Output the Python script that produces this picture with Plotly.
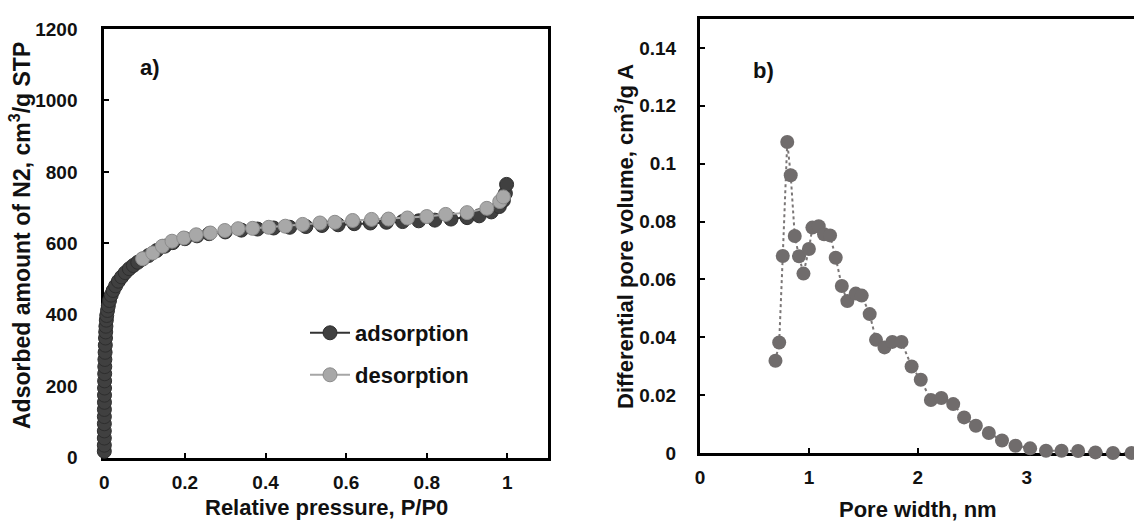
import plotly.graph_objects as go

# ---------------- data: panel a (N2 isotherm) ----------------
p_ads = [0.00002, 0.00004, 0.00007, 0.0001, 0.00015, 0.0002, 0.0003, 0.0004, 0.0005, 0.0006,
         0.0008, 0.001, 0.0012, 0.0015, 0.002, 0.0025, 0.003, 0.0035, 0.004, 0.005,
         0.006, 0.008, 0.010, 0.013, 0.017, 0.022, 0.028, 0.035, 0.043, 0.052,
         0.062, 0.072, 0.083, 0.095, 0.11, 0.13, 0.15, 0.17, 0.20, 0.23,
         0.26, 0.30, 0.34, 0.38, 0.42, 0.46, 0.50, 0.54, 0.58, 0.62,
         0.66, 0.70, 0.74, 0.78, 0.82, 0.86, 0.90, 0.93, 0.96, 0.98,
         0.99, 0.995, 0.998]
v_ads = [18, 35, 55, 75, 95, 115, 135, 155, 175, 195,
         215, 235, 255, 275, 295, 315, 335, 352, 368, 385,
         398, 412, 425, 440, 455, 468, 481, 494, 506, 518,
         529, 538, 547, 556, 566, 580, 592, 602, 613, 621,
         627, 632, 637, 640, 643, 645, 647, 650, 652, 655,
         657, 659, 661, 663, 665, 668, 672, 677, 688, 703,
         720, 740, 765]

p_des = [0.095, 0.12, 0.144, 0.168, 0.197, 0.228, 0.263, 0.299, 0.332, 0.368,
         0.408, 0.449, 0.492, 0.535, 0.572, 0.616, 0.663, 0.705, 0.752, 0.80,
         0.847, 0.90, 0.949, 0.981, 0.99]
v_des = [557, 573, 592, 606, 615, 624, 629, 636, 641, 642,
         645, 648, 653, 657, 659, 664, 667, 668, 671, 675,
         681, 686, 698, 717, 730]

a_xticks = [0, 0.2, 0.4, 0.6, 0.8, 1]
a_xlabels = ["0", "0.2", "0.4", "0.6", "0.8", "1"]
a_yticks = [0, 200, 400, 600, 800, 1000, 1200]
a_ylabels = ["0", "200", "400", "600", "800", "1000", "1200"]

# ---------------- data: panel b (pore size distribution) ----------------
pore_w = [0.693, 0.727, 0.760, 0.801, 0.833, 0.870, 0.909, 0.950, 1.000, 1.032,
          1.090, 1.139, 1.194, 1.246, 1.302, 1.353, 1.430, 1.485, 1.558, 1.616,
          1.694, 1.766, 1.850, 1.943, 2.027, 2.120, 2.216, 2.325, 2.425, 2.533,
          2.652, 2.773, 2.897, 3.031, 3.177, 3.320, 3.472, 3.631, 3.792, 3.963]
dpv = [0.0319, 0.0382, 0.0681, 0.1075, 0.0960, 0.0750, 0.0680, 0.0620, 0.0705, 0.0779,
       0.0784, 0.0756, 0.0752, 0.0675, 0.0577, 0.0525, 0.0551, 0.0544, 0.0480, 0.0391,
       0.0365, 0.0384, 0.0384, 0.0299, 0.0253, 0.0183, 0.0190, 0.0169, 0.0123, 0.0094,
       0.0069, 0.0043, 0.0025, 0.0016, 0.0008, 0.0008, 0.0007, 0.0002, 0.0, 0.0]

b_xticks = [0, 1, 2, 3, 4]
b_xlabels = ["0", "1", "2", "3", "4"]
b_yticks = [0, 0.02, 0.04, 0.06, 0.08, 0.10, 0.12, 0.14]
b_ylabels = ["0", "0.02", "0.04", "0.06", "0.08", "0.1", "0.12", "0.14"]

FONT = "Liberation Sans, Arial, sans-serif"
W, H = 1134, 523

fig = go.Figure()

fig.add_trace(go.Scatter(
    x=p_ads, y=v_ads, mode="lines+markers", name="adsorption",
    line=dict(color="#333333", width=2),
    marker=dict(size=14, color="#404040", line=dict(color="#2e2e2e", width=1)),
    xaxis="x", yaxis="y", legend="legend", cliponaxis=False))
fig.add_trace(go.Scatter(
    x=p_des, y=v_des, mode="lines+markers", name="desorption",
    line=dict(color="#a6a6a6", width=2),
    marker=dict(size=14, color="#a8a8a8", line=dict(color="#8c8c8c", width=1)),
    xaxis="x", yaxis="y", legend="legend2", cliponaxis=False))
fig.add_trace(go.Scatter(
    x=pore_w, y=dpv, mode="lines+markers", showlegend=False,
    line=dict(color="#7a7676", width=2, dash="dot"),
    marker=dict(size=14, color="#706c6c", line=dict(width=0)),
    xaxis="x2", yaxis="y2", cliponaxis=False))

axis_common = dict(
    showgrid=False, zeroline=False, showline=True, linecolor="black", linewidth=3,
    ticks="inside", ticklen=5, tickwidth=1.5, tickcolor="black", automargin=False,
    tickfont=dict(family=FONT, size=19, color="#111111", weight="bold"),
    layer="below traces",
)


def px_x(p):
    return p / W


def px_y(p):
    return 1 - p / H


fig.update_layout(
    width=W, height=H, autosize=False,
    margin=dict(l=0, r=0, t=0, b=0, pad=0, autoexpand=False),
    paper_bgcolor="white", plot_bgcolor="white",
    font=dict(family=FONT, color="#111111"),
    xaxis=dict(axis_common, domain=[px_x(104.3), px_x(547.7)], range=[0, 1.1],
               tickvals=a_xticks, ticktext=a_xlabels, mirror=True, anchor="y",
               ticklabelstandoff=5),
    yaxis=dict(axis_common, domain=[px_y(457.7), px_y(29)], range=[0, 1200],
               tickvals=a_yticks, ticktext=a_ylabels, mirror=True, anchor="x",
               ticklabelstandoff=20),
    xaxis2=dict(axis_common, domain=[px_x(700), 1.0], range=[0, 3.985],
                tickvals=b_xticks, ticktext=b_xlabels, mirror=True, anchor="y2",
                ticklabelstandoff=5),
    yaxis2=dict(axis_common, domain=[px_y(453), px_y(19)], range=[0, 0.15],
                tickvals=b_yticks, ticktext=b_ylabels, mirror=False, anchor="x2",
                ticklabelstandoff=17),
    legend=dict(x=px_x(305), y=px_y(333), xanchor="left", yanchor="middle",
                bgcolor="rgba(0,0,0,0)", itemwidth=40,
                font=dict(family=FONT, size=22, color="#111111", weight="bold")),
    legend2=dict(x=px_x(305), y=px_y(375), xanchor="left", yanchor="middle",
                 bgcolor="rgba(0,0,0,0)", itemwidth=40,
                 font=dict(family=FONT, size=22, color="#111111", weight="bold")),
)

title_font = dict(family=FONT, size=22, color="#111111", weight="bold")
annotations = [
    dict(text="Relative pressure, P/P0", x=px_x(326), y=px_y(507), size=22),
    dict(text="Adsorbed amount of N2, cm<sup>3</sup>/g STP", x=px_x(20), y=px_y(236),
         textangle=-90, size=23),
    dict(text="Pore width, nm", x=px_x(918), y=px_y(509), size=22),
    dict(text="Differential pore volume, cm<sup>3</sup>/g A", x=px_x(624), y=px_y(237),
         textangle=-90, size=22),
    dict(text="a)", x=px_x(150), y=px_y(68), size=22),
    dict(text="b)", x=px_x(763), y=px_y(70), size=22),
]
for a in annotations:
    sz = a.pop("size")
    fig.add_annotation(xref="paper", yref="paper", showarrow=False,
                       xanchor="center", yanchor="middle",
                       font=dict(title_font, size=sz), **a)

fig.write_html("out.html", config={"displayModeBar": False, "responsive": False},
               post_script="document.body.style.margin='0';document.body.style.overflow='hidden';")
